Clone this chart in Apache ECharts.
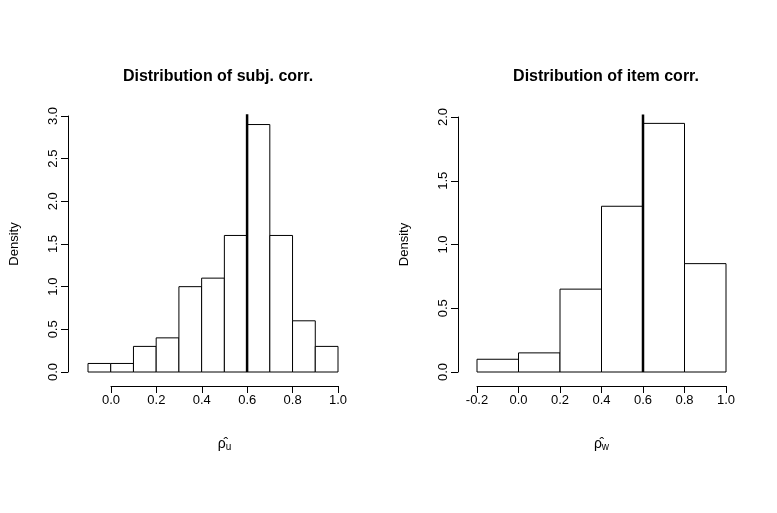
<!DOCTYPE html>
<html><head><meta charset="utf-8">
<script src="https://cdn.jsdelivr.net/npm/echarts@6/dist/echarts.min.js"></script>
<style>html,body{margin:0;background:#fff}#c{width:777px;height:513px}</style>
</head><body><div id="c"></div>
<script>
// histogram bins: [start, end, density]
var subjEdges = [-0.1, 0.0, 0.1, 0.2, 0.3, 0.4, 0.5, 0.6, 0.7, 0.8, 0.9, 1.0];
var subjDensity = [0.1, 0.1, 0.3, 0.4, 1.0, 1.1, 1.6, 2.9, 1.6, 0.6, 0.3];
var itemEdges = [-0.2, 0.0, 0.2, 0.4, 0.6, 0.8, 1.0];
var itemDensity = [0.1, 0.15, 0.65, 1.3, 1.95, 0.85];
var refLine = 0.6;

function bins(edges, dens) {
  return dens.map(function (d, i) { return [edges[i], edges[i + 1], d]; });
}
var font = 'Liberation Sans, Arial, sans-serif';
function renderBar(params, api) {
  var p0 = api.coord([api.value(0), api.value(2)]);
  var p1 = api.coord([api.value(1), 0]);
  return { type: 'rect', shape: { x: p0[0], y: p0[1], width: p1[0] - p0[0], height: p1[1] - p0[1] },
    style: { fill: '#fff', stroke: '#000', lineWidth: 1 } };
}
function fmt(v) { return v.toFixed(1); }
var axLine = { show: true, onZero: false, lineStyle: { color: '#000' } };
var axTick = { show: true, length: 7, lineStyle: { color: '#000' } };
var lab = { color: '#000', fontSize: 13, fontFamily: font, formatter: fmt };
var subRich = { rich: { a: { fontSize: 14, fontFamily: font, color: '#000' },
  s: { fontSize: 10, fontFamily: font, color: '#000', verticalAlign: 'bottom', padding: [6, 0, 0, 0] } } };

var chart = echarts.init(document.getElementById('c'));
chart.setOption({
  animation: false,
  title: [
    { text: 'Distribution of subj. corr.', left: 213, top: 64, textAlign: 'center',
      textStyle: { fontSize: 16, fontWeight: 'bold', fontFamily: font, color: '#000' } },
    { text: 'Distribution of item corr.', left: 601, top: 64, textAlign: 'center',
      textStyle: { fontSize: 16, fontWeight: 'bold', fontFamily: font, color: '#000' } }
  ],
  grid: [
    { left: 88, width: 250, top: 116, height: 256 },
    { left: 111, width: 227, top: 116, height: 256 },
    { left: 477, width: 249, top: 117, height: 255 }
  ],
  xAxis: [
    { gridIndex: 0, type: 'value', min: -0.1, max: 1.0, show: false },
    { gridIndex: 1, type: 'value', min: 0, max: 1, interval: 0.2, offset: 14,
      axisLine: axLine, axisTick: axTick, splitLine: { show: false }, axisLabel: lab,
      name: '{a|ρ̂}{s|u}', nameLocation: 'middle', nameGap: 50, nameTextStyle: subRich },
    { gridIndex: 2, type: 'value', min: -0.2, max: 1.0, interval: 0.2, offset: 14,
      axisLine: axLine, axisTick: axTick, splitLine: { show: false }, axisLabel: lab,
      name: '{a|ρ̂}{s|w}', nameLocation: 'middle', nameGap: 50, nameTextStyle: subRich }
  ],
  yAxis: [
    { gridIndex: 0, type: 'value', min: 0, max: 3, interval: 0.5, offset: 20,
      axisLine: axLine, axisTick: axTick, splitLine: { show: false },
      axisLabel: Object.assign({}, lab, { rotate: 90 }),
      name: 'Density', nameLocation: 'middle', nameGap: 47, nameRotate: 90,
      nameTextStyle: { fontSize: 13, fontFamily: font, color: '#000' } },
    { gridIndex: 1, type: 'value', min: 0, max: 3, show: false },
    { gridIndex: 2, type: 'value', min: 0, max: 2, interval: 0.5, offset: 19,
      axisLine: axLine, axisTick: axTick, splitLine: { show: false },
      axisLabel: Object.assign({}, lab, { rotate: 90 }),
      name: 'Density', nameLocation: 'middle', nameGap: 47, nameRotate: 90,
      nameTextStyle: { fontSize: 13, fontFamily: font, color: '#000' } }
  ],
  series: [
    { type: 'custom', xAxisIndex: 0, yAxisIndex: 0, renderItem: renderBar, data: bins(subjEdges, subjDensity) },
    { type: 'line', xAxisIndex: 0, yAxisIndex: 0, symbol: 'none', clip: false,
      lineStyle: { color: '#000', width: 2.5 }, data: [[refLine, 0], [refLine, 3.02]] },
    { type: 'custom', xAxisIndex: 2, yAxisIndex: 2, renderItem: renderBar, data: bins(itemEdges, itemDensity) },
    { type: 'line', xAxisIndex: 2, yAxisIndex: 2, symbol: 'none', clip: false,
      lineStyle: { color: '#000', width: 2.5 }, data: [[refLine, 0], [refLine, 2.02]] }
  ]
});
</script></body></html>
